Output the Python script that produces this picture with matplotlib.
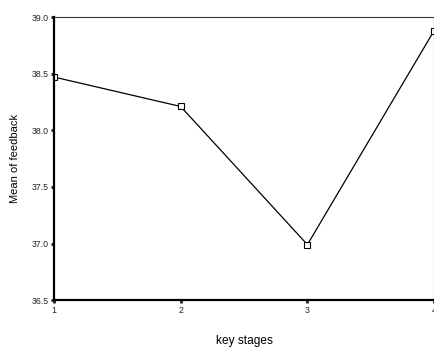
import matplotlib
matplotlib.use("Agg")
import matplotlib.pyplot as plt

plt.rcParams['font.family'] = ['Liberation Sans', 'DejaVu Sans']

# mean feedback per key stage
stages = [1, 2, 3, 4]
feedback_mean = [38.47, 38.21, 36.99, 38.88]
y_ticks = [36.5, 37.0, 37.5, 38.0, 38.5, 39.0]

fig = plt.figure(figsize=(4.35, 3.47), dpi=100)
ax = fig.add_axes([0.124, 0.135, 0.874, 0.816])

ax.plot(stages, feedback_mean, color='black', linewidth=0.9,
        marker='s', markersize=5, markerfacecolor='white',
        markeredgecolor='black', markeredgewidth=0.8)

ax.set_xlim(1, 4)
ax.set_ylim(36.5, 39.0)
ax.set_xticks(stages)
ax.set_yticks(y_ticks)
ax.set_yticklabels([f"{v:.1f}" for v in y_ticks])

ax.spines['left'].set_linewidth(1.6)
ax.spines['bottom'].set_linewidth(1.6)
ax.spines['top'].set_linewidth(0.8)
ax.spines['right'].set_linewidth(0.8)
ax.spines['top'].set_color('#333333')
ax.spines['right'].set_color('#333333')

ax.tick_params(axis='both', length=2, width=2, direction='out',
               labelsize=6.3, colors='#222222', pad=2)

ax.set_xlabel('key stages', fontsize=8.6, labelpad=14.5)
ax.set_ylabel('Mean of feedback', fontsize=8, labelpad=8)

fig.savefig('out.png', dpi=100)
